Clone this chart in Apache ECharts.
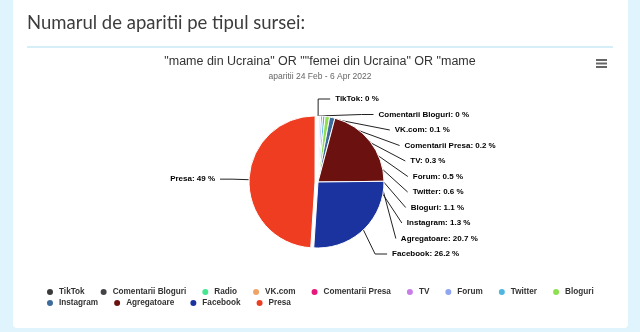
<!DOCTYPE html>
<html>
<head>
<meta charset="utf-8">
<script src="https://cdn.jsdelivr.net/npm/echarts@6/dist/echarts.min.js"></script>
<style>
html,body{margin:0;padding:0;width:640px;height:332px;overflow:hidden;background:#dff4fc;}
#c{width:640px;height:332px;}
</style>
</head>
<body>
<div id="c"></div>
<script>
const categories = ['TikTok','Comentarii Bloguri','Radio','VK.com','Comentarii Presa','TV','Forum','Twitter','Bloguri','Instagram','Agregatoare','Facebook','Presa'];
const values = [0, 0, 0, 0.1, 0.2, 0.3, 0.5, 0.6, 1.1, 1.3, 20.7, 26.2, 49];
const colors = ['#3a3a3a','#434348','#45e88e','#f0a366','#e8177a','#c77ee8','#8fa6ee','#4fb6e2','#8ee04f','#3d6b9c','#6b1210','#1a339e','#ee3d21'];
const legendRow1 = categories.slice(0, 9);
const legendRow2 = categories.slice(9);
const hiddenLabels = ['Radio'];
const slicedItem = 'Presa';
const pageTitle = 'Numarul de aparitii pe tipul sursei:';
const chartTitle = '"mame din Ucraina" OR ""femei din Ucraina" OR "mame';
const chartSubtitle = 'aparitii 24 Feb - 6 Apr 2022';

const data = categories.map((name, i) => {
  const item = { name: name, value: values[i] };
  if (hiddenLabels.includes(name)) {
    item.label = { show: false };
    item.labelLine = { show: false };
  }
  if (name === slicedItem) item.selected = true;
  return item;
});

const legendBase = {
  left: 45,
  itemGap: 14,
  itemWidth: 8,
  itemHeight: 8,
  icon: 'circle',
  textStyle: { fontFamily: 'Liberation Sans', fontSize: 8.2, fontWeight: 'bold', color: '#333' },
  padding: 0
};

const chart = echarts.init(document.getElementById('c'), null, { renderer: 'canvas' });
chart.setOption({
  animation: false,
  backgroundColor: '#dff4fc',
  color: colors,
  graphic: [
    { type: 'rect', shape: { x: 13, y: -10, width: 615, height: 338, r: 4 }, style: { fill: '#ffffff' }, z: -10 },
    { type: 'text', left: 27, top: 14, style: { text: pageTitle, font: '400 18.5px Lato', fill: '#3c3c3c' } },
    { type: 'rect', shape: { x: 27, y: 46, width: 586, height: 2 }, style: { fill: '#d6eef8' } },
    { type: 'group', left: 596, top: 59, children: [
      { type: 'rect', shape: { x: 0, y: 0, width: 11, height: 2 }, style: { fill: '#666' } },
      { type: 'rect', shape: { x: 0, y: 3.5, width: 11, height: 2 }, style: { fill: '#666' } },
      { type: 'rect', shape: { x: 0, y: 7, width: 11, height: 2 }, style: { fill: '#666' } }
    ] }
  ],
  title: {
    text: chartTitle,
    subtext: chartSubtitle,
    left: 320,
    textAlign: 'center',
    top: 55,
    padding: 0,
    itemGap: 4,
    textStyle: { fontFamily: 'Liberation Sans', fontSize: 12.5, fontWeight: 'normal', color: '#333' },
    subtextStyle: { fontFamily: 'Liberation Sans', fontSize: 8.5, color: '#666' }
  },
  legend: [
    Object.assign({}, legendBase, { top: 287, data: legendRow1 }),
    Object.assign({}, legendBase, { top: 298, data: legendRow2 })
  ],
  series: [{
    type: 'pie',
    center: [318, 182],
    radius: 66,
    startAngle: 89.9,
    clockwise: true,
    selectedMode: 'single',
    selectedOffset: 3,
    avoidLabelOverlap: true,
    stillShowZeroSum: true,
    itemStyle: { borderColor: '#fff', borderWidth: 1 },
    label: {
      show: true,
      formatter: '{b}: {c} %',
      fontFamily: 'Liberation Sans',
      fontSize: 8,
      fontWeight: 'bold',
      color: '#000',
      lineHeight: 13.5
    },
    labelLine: { show: true, length: 17, length2: 12, lineStyle: { color: '#222', width: 1 } },
    emphasis: { disabled: true },
    data: data
  }]
});
</script>
</body>
</html>
